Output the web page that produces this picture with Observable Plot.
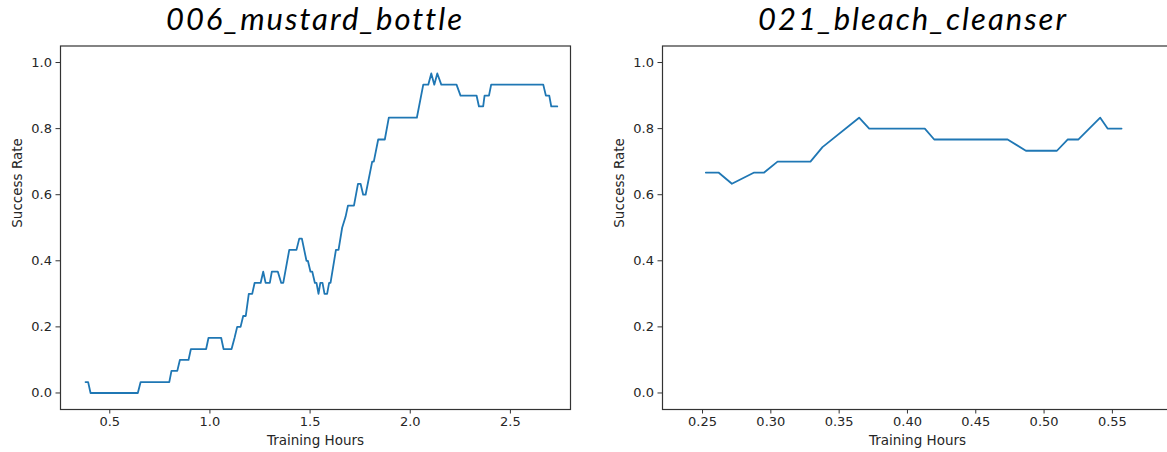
<!DOCTYPE html>
<html>
<head>
<meta charset="utf-8">
<script src="https://cdn.jsdelivr.net/npm/d3@7"></script>
<script src="https://cdn.jsdelivr.net/npm/@observablehq/plot@0.6"></script>
<style>
  html, body { margin: 0; padding: 0; background: #fff; overflow: hidden; width: 1167px; height: 452px; }
  .title { position: absolute; top: 0; font-family: Lato, "Open Sans", sans-serif; font-style: italic; font-size: 31px; line-height: 37.2px; letter-spacing: 2px; color: #000; text-align: center; white-space: nowrap; }
  .panel { position: absolute; top: 38px; width: 600px; height: 414px; }
  .panel svg { max-width: none !important; }
</style>
</head>
<body>
<div class="title" id="t1" style="left:0px;width:630px;"></div>
<div class="title" id="t2" style="left:613px;width:600px;"></div>
<div class="panel" id="p1" style="left:0px;"></div>
<div class="panel" id="p2" style="left:602px;"></div>
<script>
// ---- data ----
const titles = ["006_mustard_bottle", "021_bleach_cleanser"];

const hoursMustard = [0.379, 0.392, 0.404, 0.640, 0.654, 0.797, 0.808, 0.837, 0.850, 0.893,
  0.905, 0.981, 0.993, 1.056, 1.068, 1.108, 1.123, 1.136, 1.153, 1.166,
  1.179, 1.194, 1.211, 1.223, 1.253, 1.266, 1.278, 1.299, 1.309, 1.339,
  1.356, 1.366, 1.396, 1.432, 1.446, 1.459, 1.482, 1.489, 1.502, 1.511,
  1.524, 1.532, 1.542, 1.551, 1.562, 1.572, 1.585, 1.595, 1.602, 1.629,
  1.642, 1.660, 1.677, 1.689, 1.719, 1.739, 1.752, 1.765, 1.777, 1.810,
  1.818, 1.840, 1.873, 1.893, 2.033, 2.065, 2.090, 2.105, 2.120, 2.135,
  2.155, 2.231, 2.251, 2.331, 2.343, 2.364, 2.371, 2.393, 2.404, 2.664,
  2.677, 2.694, 2.704, 2.734];
const rateMustard = [0.033, 0.033, 0.000, 0.000, 0.033, 0.033, 0.067, 0.067, 0.100, 0.100,
  0.133, 0.133, 0.167, 0.167, 0.133, 0.133, 0.167, 0.200, 0.200, 0.233,
  0.233, 0.300, 0.300, 0.333, 0.333, 0.367, 0.333, 0.333, 0.367, 0.367,
  0.333, 0.333, 0.433, 0.433, 0.467, 0.467, 0.400, 0.400, 0.367, 0.367,
  0.333, 0.333, 0.300, 0.333, 0.333, 0.300, 0.300, 0.333, 0.333, 0.433,
  0.433, 0.500, 0.533, 0.567, 0.567, 0.633, 0.633, 0.600, 0.600, 0.700,
  0.700, 0.767, 0.767, 0.833, 0.833, 0.933, 0.933, 0.967, 0.933, 0.967,
  0.933, 0.933, 0.900, 0.900, 0.867, 0.867, 0.900, 0.900, 0.933, 0.933,
  0.900, 0.900, 0.867, 0.867];

const hoursBleach = [0.2524, 0.2617, 0.2715, 0.2878, 0.2951, 0.3049, 0.3290, 0.3378, 0.3646, 0.3720,
  0.4127, 0.4196, 0.4733, 0.4867, 0.5094, 0.5172, 0.5250, 0.5411, 0.5465, 0.5567];
const rateBleach = [0.667, 0.667, 0.633, 0.667, 0.667, 0.700, 0.700, 0.744, 0.833, 0.800,
  0.800, 0.767, 0.767, 0.733, 0.733, 0.767, 0.767, 0.833, 0.800, 0.800];

const xTicksMustard = [0.5, 1.0, 1.5, 2.0, 2.5];
const xTicksBleach = [0.25, 0.30, 0.35, 0.40, 0.45, 0.50, 0.55];
const yTicks = [0.0, 0.2, 0.4, 0.6, 0.8, 1.0];

// ---- chart ----
function chart(hours, rate, xDomain, xTicks, xFmt) {
  const data = hours.map((h, i) => ({h, r: rate[i]}));
  return Plot.plot({
    width: 600,
    height: 414,
    marginLeft: 60,
    marginRight: 30,
    marginTop: 7.5,
    marginBottom: 43,
    x: {domain: xDomain},
    y: {domain: [-0.05, 1.05]},
    style: {fontFamily: "'DejaVu Sans', sans-serif", fontSize: "13px", color: "#262626", background: "#fff", maxWidth: "none"},
    marks: [
      Plot.frame({stroke: "#333", strokeWidth: 1.2}),
      Plot.axisX({ticks: xTicks, tickSize: 4.5, tickPadding: 3, tickFormat: d3.format(xFmt), label: null, stroke: "#333"}),
      Plot.axisY({ticks: yTicks, tickSize: 4.5, tickPadding: 4, tickFormat: d3.format(".1f"), label: null, stroke: "#333"}),
      Plot.line(data, {x: "h", y: "r", stroke: "#1f77b4", strokeWidth: 1.8}),
      Plot.text(["Training Hours"], {frameAnchor: "bottom", dy: 31, lineAnchor: "middle", fontSize: 13.5}),
      Plot.text(["Success Rate"], {frameAnchor: "left", dx: -43, rotate: -90, lineAnchor: "middle", fontSize: 13.5})
    ]
  });
}

document.getElementById("t1").textContent = titles[0];
document.getElementById("t2").textContent = titles[1];
document.getElementById("p1").appendChild(chart(hoursMustard, rateMustard, [0.254, 2.80], xTicksMustard, ".1f"));
document.getElementById("p2").appendChild(chart(hoursBleach, rateBleach, [0.2207, 0.594], xTicksBleach, ".2f"));
</script>
</body>
</html>
